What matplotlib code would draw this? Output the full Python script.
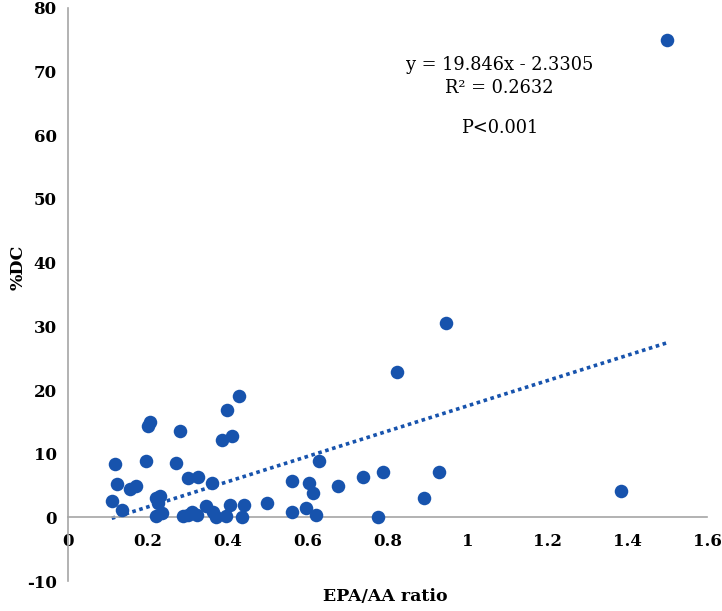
import matplotlib
matplotlib.use("Agg")
import matplotlib.pyplot as plt
import numpy as np

# Data (EPA/AA ratio vs %DC)
epa_aa = [0.206, 0.202, 0.281, 0.428, 0.398, 0.412, 0.387,
          0.119, 0.196, 0.270, 0.124, 0.157, 0.172, 0.110, 0.135,
          0.222, 0.231, 0.227, 0.221, 0.235,
          0.300, 0.325, 0.360,
          0.289, 0.300, 0.310, 0.323, 0.347, 0.364, 0.370, 0.396, 0.405, 0.435, 0.440,
          0.498, 0.562, 0.562, 0.597, 0.604, 0.614, 0.620, 0.628, 0.677, 0.739,
          0.789, 0.775, 0.823, 0.891, 0.928, 0.945, 1.385, 1.500]
pct_dc = [14.9, 14.3, 13.6, 19.0, 16.8, 12.8, 12.2,
          8.4, 8.8, 8.6, 5.3, 4.4, 4.9, 2.5, 1.1,
          3.0, 3.3, 2.2, 0.15, 0.7,
          6.2, 6.4, 5.4,
          0.2, 0.4, 0.9, 0.4, 1.8, 0.9, 0.1, 0.15, 1.9, 0.1, 2.0,
          2.3, 0.8, 5.7, 1.45, 5.4, 3.8, 0.3, 8.9, 4.9, 6.3,
          7.1, 0.05, 22.8, 3.0, 7.1, 30.6, 4.1, 74.9]

slope = 19.846
intercept = -2.3305
r_squared = 0.2632

x_ticks = [0, 0.2, 0.4, 0.6, 0.8, 1, 1.2, 1.4, 1.6]
x_tick_labels = ["0", "0.2", "0.4", "0.6", "0.8", "1", "1.2", "1.4", "1.6"]
y_ticks = [-10, 0, 10, 20, 30, 40, 50, 60, 70, 80]
y_tick_labels = ["-10", "0", "10", "20", "30", "40", "50", "60", "70", "80"]

serif = "DejaVu Serif"
dot_color = "#1753ad"
axis_color = "#a6a6a6"

fig = plt.figure(figsize=(7.22, 6.11), dpi=100)
ax = fig.add_axes([0.0938, 0.049, 0.886, 0.938])

ax.scatter(epa_aa, pct_dc, s=95, color=dot_color, zorder=3, linewidths=0)

xs = np.array([min(epa_aa), max(epa_aa)])
ax.plot(xs, slope * xs + intercept, color=dot_color, linewidth=2.6,
        linestyle=(0, (1, 1.0)), zorder=2)

ax.set_xlim(0, 1.6)
ax.set_ylim(-10, 80)

for s in ["top", "right"]:
    ax.spines[s].set_visible(False)
ax.spines["bottom"].set_position(("data", 0))
ax.spines["bottom"].set_color(axis_color)
ax.spines["left"].set_color(axis_color)
ax.spines["bottom"].set_linewidth(1.2)
ax.spines["left"].set_linewidth(1.2)

ax.set_xticks(x_ticks)
ax.set_xticklabels(x_tick_labels, family=serif, fontweight="bold", fontsize=12)
ax.set_yticks(y_ticks)
ax.set_yticklabels(y_tick_labels, family=serif, fontweight="bold", fontsize=12)
ax.tick_params(axis="x", length=0, pad=11)
ax.tick_params(axis="y", length=0, pad=8)

fig.text(0.025, 0.563, "%DC", rotation=90, ha="center", va="center",
         family=serif, fontweight="bold", fontsize=12.5)
fig.text(0.533, 0.023, "EPA/AA ratio", ha="center", va="center",
         family=serif, fontweight="bold", fontsize=12.5)

ax.text(0.675, 0.900, "y = 19.846x - 2.3305", transform=ax.transAxes,
        ha="center", va="center", family=serif, fontsize=12.8)
ax.text(0.675, 0.860, "R\u00b2 = 0.2632", transform=ax.transAxes,
        ha="center", va="center", family=serif, fontsize=12.8)
ax.text(0.675, 0.790, "P<0.001", transform=ax.transAxes,
        ha="center", va="center", family=serif, fontsize=12.8)

fig.savefig("out.png", dpi=100)
